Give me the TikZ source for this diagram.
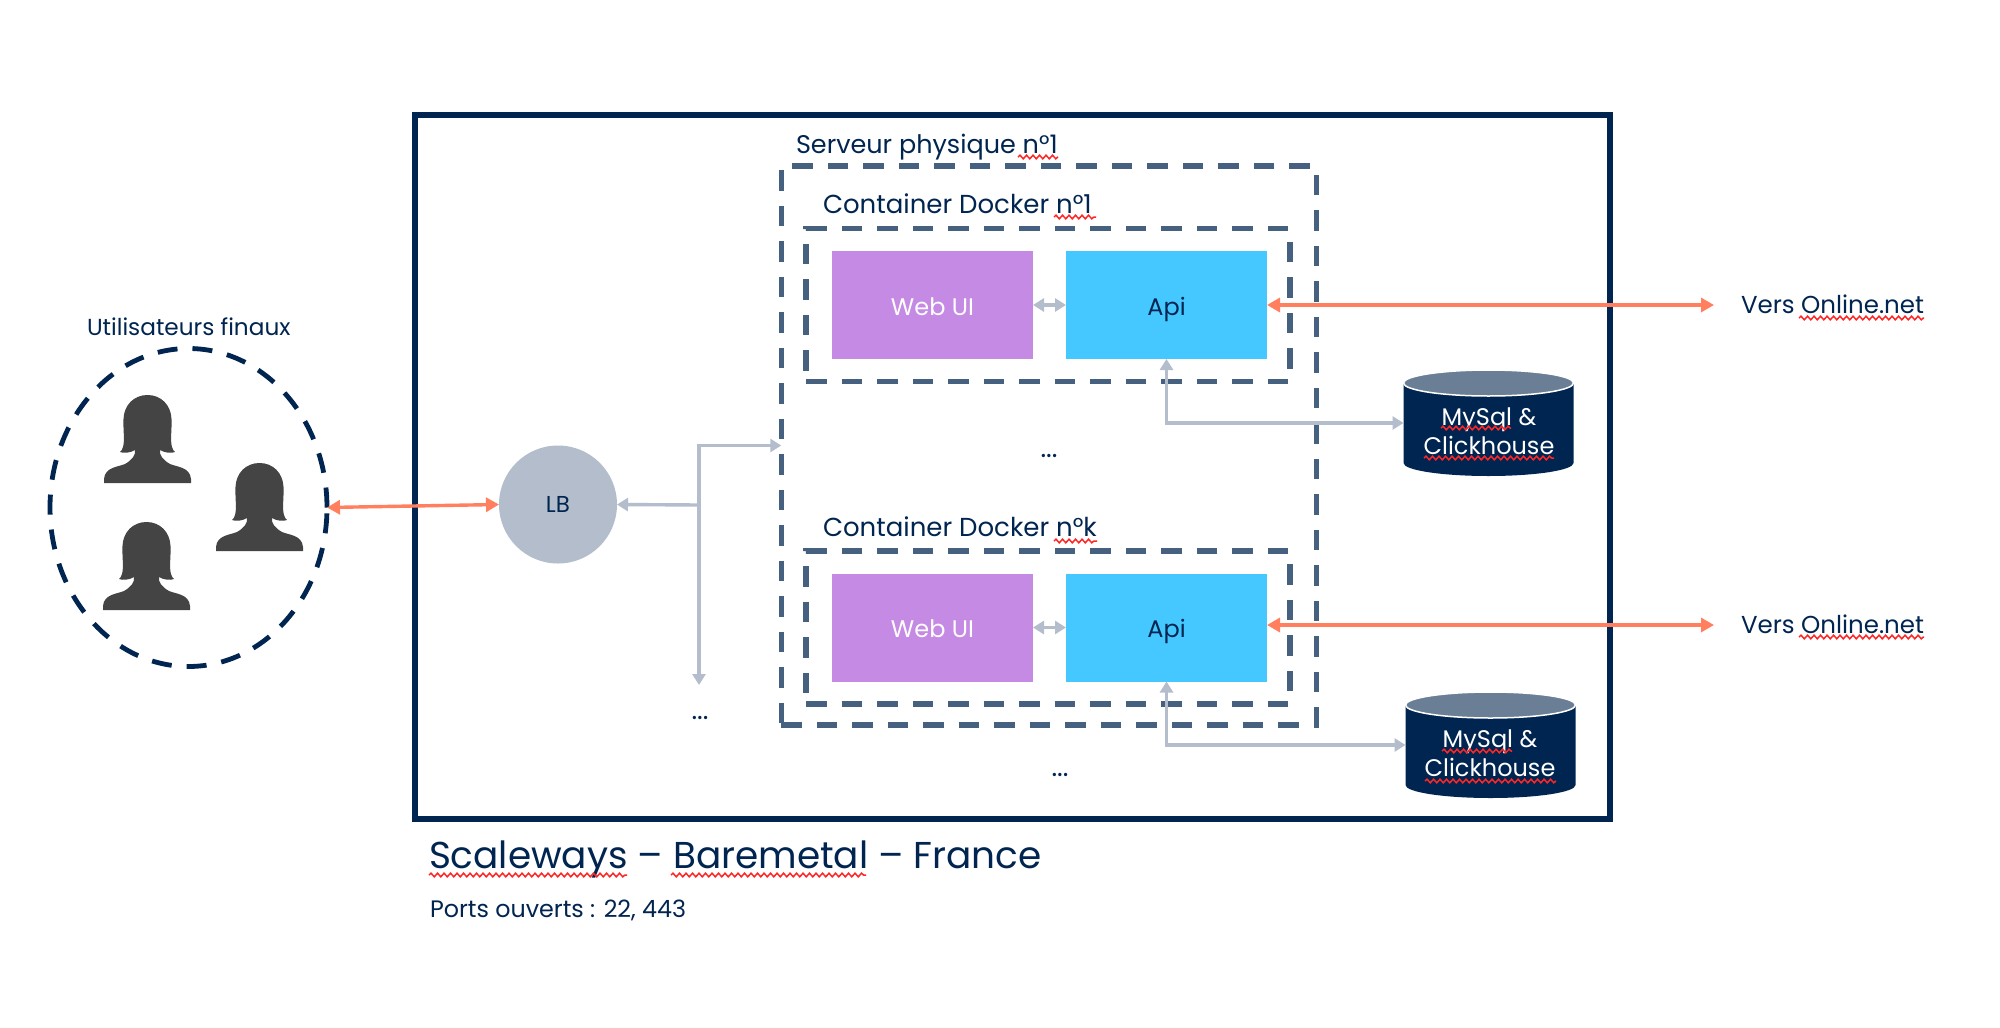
\documentclass[tikz,border=0pt]{standalone}
\usepackage{fontspec}
\setmainfont{Poppins}
\usetikzlibrary{arrows.meta,decorations.pathmorphing,shapes.geometric}
\definecolor{navy}{HTML}{002550}
\definecolor{slateb}{HTML}{46607F}
\definecolor{lgray}{HTML}{B3BDCB}
\definecolor{coral}{HTML}{FF7F5F}
\definecolor{lilac}{HTML}{C58AE3}
\definecolor{sky}{HTML}{45C8FF}
\definecolor{dbtop}{HTML}{6A7F96}
\definecolor{sil}{HTML}{444444}
\newcommand{\lowered}[1]{\raisebox{-10pt}[10pt][10pt]{#1}}
\tikzset{
  x=1pt,y=-1pt,
  every node/.style={inner sep=0pt,outer sep=0pt,text=navy},
  frm/.style={draw=navy,line width=5.5pt,minimum width=1195pt,minimum height=704pt},
  dashbox/.style={draw=slateb,line width=5.2pt,dash pattern=on 20.5pt off 15pt},
  srv/.style={dashbox,minimum width=535pt,minimum height=559pt},
  ctn/.style={dashbox,minimum width=484pt,minimum height=153pt},
  web/.style={fill=lilac,minimum width=201pt,minimum height=108pt,font=\fontsize{24}{28}\selectfont,text=white},
  api/.style={fill=sky,minimum width=201pt,minimum height=108pt,font=\fontsize{24}{28}\selectfont},
  lbl/.style={anchor=base west,font=\fontsize{24}{28}\selectfont},
  dots/.style={font=\fontsize{27}{30}\selectfont,anchor=base},
  usr/.style={draw=navy,line width=4.8pt,dash pattern=on 20pt off 15pt,shape=ellipse,minimum width=277pt,minimum height=318pt},
  lbn/.style={circle,fill=lgray,minimum size=118pt,font=\fontsize{23}{26}\selectfont},
  dbn/.style={minimum width=170pt,minimum height=106pt},
  dbt/.style={font=\fontsize{24}{29}\selectfont,text=white,align=center,anchor=center},
  gline/.style={draw=lgray,line width=3.4pt,-{Triangle[length=11pt,width=13pt]}},
  gboth/.style={draw=lgray,line width=3.4pt,{Triangle[length=11pt,width=13pt]}-{Triangle[length=11pt,width=13pt]}},
  oboth/.style={draw=coral,line width=3.4pt,{Triangle[length=13pt,width=14pt]}-{Triangle[length=13pt,width=14pt]}},
  squig/.style={draw=red!85!white,line width=1.5pt,decorate,decoration={snake,amplitude=1.8pt,segment length=6.5pt}},
  woman/.pic={
    \fill[sil] (43.5,0) .. controls (30,0) and (20,10) .. (19.5,24)
      .. controls (19,35) and (21,45) .. (19,52)
      .. controls (18.5,55) and (17,56) .. (16,57)
      .. controls (20,58.5) and (26,58) .. (31,55)
      .. controls (32,60) and (28,65) .. (21,69)
      .. controls (14,72) and (1,72) .. (0,84)
      -- (0,88) -- (87,88) -- (87,84)
      .. controls (86,72) and (73,72) .. (66,69)
      .. controls (59,65) and (55,60) .. (56,55)
      .. controls (61,58) and (67,58.5) .. (71,57)
      .. controls (70,56) and (68.5,55) .. (68,52)
      .. controls (66,45) and (68,35) .. (67.5,24)
      .. controls (67,10) and (57,0) .. (43.5,0) -- cycle;
  }
}
\newcommand{\dbbody}[2]{%
  \fill[navy] (#1-85,#2-40) -- (#1-85,#2+40)
     arc[start angle=180,end angle=360,x radius=85,y radius=-13]
     -- (#1+85,#2-40) -- cycle;
  \fill[dbtop,draw=white,line width=1.5pt] (#1,#2-40) ellipse[x radius=85,y radius=13];
}
\begin{document}
\begin{tikzpicture}
\useasboundingbox (0,0) rectangle (2000,1028);
\fill[white] (0,0) rectangle (2000,1028);

% outer frame
\node[frm] (frame) at (1012.5,467) {};

% containers
\node[ctn] (c1) at (1048,305) {};
\node[ctn] (ck) at (1048,627.5) {};
\node[web] (w1) at (932.5,305) {\lowered{Web UI}};
\node[api] (a1) at (1166.5,305) {\lowered{Api}};
\node[web] (wk) at (932.5,627.5) {\lowered{Web UI}};
\node[api] (ak) at (1166.5,627.5) {\lowered{Api}};

% databases
\dbbody{1488.5}{423}
\dbbody{1490.5}{745}
\node[dbn] (db1) at (1488.5,423) {};
\node[dbn] (dbk) at (1490.5,745) {};
\node[dbt] (dbt1) at (1489,431.5) {MySql \&\\Clickhouse};
\node[dbt] (dbtk) at (1490,753.5) {MySql \&\\Clickhouse};

% grey links
\node[lbn] (lb) at (558,504.5) {LB};
\node[srv] (srv) at (1048.75,445.5) {};
\coordinate (j) at (699,505);
\coordinate (dn) at (699,685);
\draw[gline] (j) -- (lb.east);
\draw[gline] (j) |- (srv.west);
\draw[gline] (j) -- (dn);
\draw[gboth] (w1.east) -- (a1.west);
\draw[gboth] (wk.east) -- (ak.west);
\draw[gboth] (a1.south) |- (db1.west);
\draw[gboth] (ak.south) |- (dbk.west);

% users
\node[usr] (u) at (188.5,507.5) {};
\pic at (104,395) {woman};
\pic at (216,463) {woman};
\pic at (103,522) {woman};

% coral links
\coordinate (o1) at (1714,305);
\coordinate (ok) at (1714,625);
\draw[oboth] (u.east) -- (lb.west);
\draw[oboth] (a1.east) -- (o1);
\draw[oboth] (ak.east |- ok) -- (ok);

% labels
\node[lbl,font=\fontsize{23.2}{28}\selectfont] (tu) at (87,335) {Utilisateurs finaux};
\node[lbl,font=\fontsize{25.5}{28}\selectfont] (ts) at (796,153) {Serveur physique n°1};
\node[lbl,font=\fontsize{26}{28}\selectfont] (t1) at (823,213) {Container Docker n°1};
\node[lbl,font=\fontsize{26}{28}\selectfont] (tk) at (823,536) {Container Docker n°k};
\node[lbl,font=\fontsize{24.5}{28}\selectfont] (v1) at (1741,313) {Vers Online.net};
\node[lbl,font=\fontsize{24.5}{28}\selectfont] (vk) at (1741,633) {Vers Online.net};
\node[dots] (d1) at (1049,457) {...};
\node[dots] (d2) at (1060,776) {...};
\node[dots] (d3) at (700,719) {...};
\node[anchor=base west,font=\fontsize{37.4}{44}\selectfont] (title) at (429,868) {Scaleways – Baremetal – France};
\node[lbl,font=\fontsize{23.8}{28}\selectfont] (ports) at (430,917) {Ports ouverts : 22, 443};

% spell-check underlines
\draw[squig] (1018,157) -- (1058,157);
\draw[squig] (1054,217) -- (1096,217);
\draw[squig] (1054,541) -- (1097,541);
\draw[squig] (1799,318) -- (1924,318);
\draw[squig] (1799,637) -- (1924,637);
\draw[squig] (1441,428) -- (1511,428);
\draw[squig] (1424,458) -- (1554,458);
\draw[squig] (1442,751) -- (1512,751);
\draw[squig] (1425,781) -- (1556,781);
\draw[squig] (429,875) -- (627,875);
\draw[squig] (671,875) -- (866,875);
\end{tikzpicture}
\end{document}
